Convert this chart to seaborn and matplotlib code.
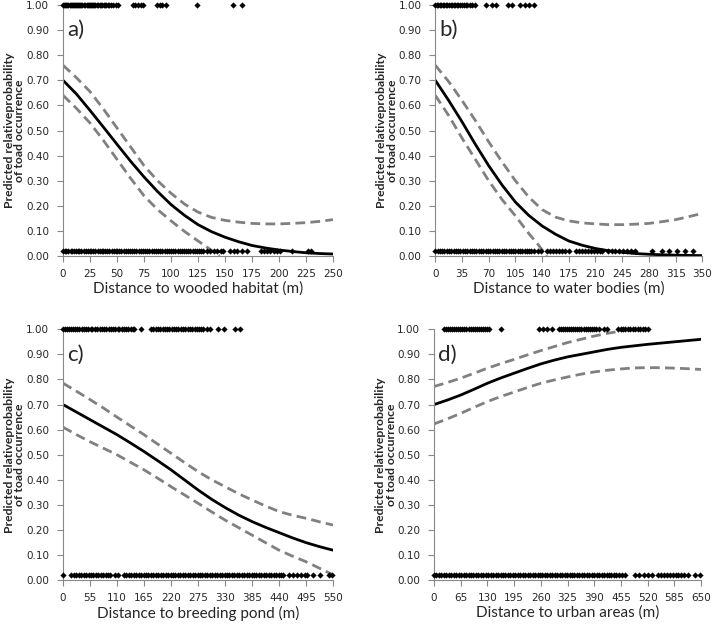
import seaborn as sns
import matplotlib.pyplot as plt
from matplotlib.ticker import FormatStrFormatter

# a) distance to wooded habitat
a_x = [0, 12.5, 25, 37.5, 50, 62.5, 75, 87.5, 100, 112.5, 125, 137.5, 150, 162.5, 175, 187.5,
       200, 212.5, 225, 237.5, 250]
a_fit = [0.70, 0.645, 0.58, 0.513, 0.445, 0.378, 0.315, 0.257, 0.205, 0.162, 0.125, 0.097,
         0.075, 0.057, 0.042, 0.032, 0.024, 0.018, 0.013, 0.010, 0.008]
a_upper = [0.76, 0.71, 0.655, 0.585, 0.51, 0.435, 0.36, 0.30, 0.25, 0.207, 0.175, 0.154,
           0.142, 0.135, 0.13, 0.128, 0.128, 0.13, 0.133, 0.138, 0.145]
a_lower_x = [0, 12.5, 25, 37.5, 50, 62.5, 75, 87.5, 100, 112.5, 125, 135, 145]
a_lower = [0.64, 0.588, 0.53, 0.46, 0.385, 0.31, 0.24, 0.185, 0.14, 0.098, 0.06, 0.03, 0.0]
a_top = [0, 1, 2, 3, 4, 5, 6, 7, 8, 9, 10, 11, 12, 13, 14, 15, 16, 17, 18, 19, 20, 22, 23, 24,
         25, 26, 27, 28, 29, 30, 31, 32, 34, 35, 36, 38, 39, 40, 42, 43, 44, 46, 49, 51,
         65, 67, 69, 72, 74, 87, 90, 92, 95, 124, 157, 166]
a_bottom = [0, 2, 3, 5, 7, 8, 10, 12, 14, 15, 17, 19, 21, 23, 25, 26, 28, 30, 32, 34, 36, 37,
            39, 41, 43, 45, 47, 49, 50, 52, 54, 56, 58, 60, 62, 64, 66, 68, 70, 72, 74, 76, 78,
            80, 82, 84, 86, 88, 90, 92, 94, 96, 98, 100, 102, 104, 106, 108, 110, 112, 114,
            116, 118, 120, 122, 124, 126, 128, 130, 133, 136, 140, 143, 146, 148, 155, 158,
            161, 166, 170, 183, 186, 189, 192, 195, 198, 201, 212, 227, 230]

# b) distance to water bodies
b_x = [0, 17.5, 35, 52.5, 70, 87.5, 105, 122.5, 140, 157.5, 175, 192.5, 210, 227.5, 245,
       262.5, 280, 297.5, 315, 332.5, 350]
b_fit = [0.70, 0.62, 0.535, 0.445, 0.36, 0.283, 0.215, 0.162, 0.12, 0.087, 0.06, 0.043, 0.03,
         0.021, 0.015, 0.01, 0.007, 0.005, 0.0035, 0.0025, 0.0017]
b_upper = [0.76, 0.695, 0.62, 0.54, 0.455, 0.375, 0.30, 0.235, 0.185, 0.155, 0.14, 0.132,
           0.128, 0.125, 0.125, 0.127, 0.13, 0.137, 0.145, 0.157, 0.17]
b_lower_x = [0, 17.5, 35, 52.5, 70, 87.5, 105, 122.5, 135, 146]
b_lower = [0.64, 0.56, 0.47, 0.385, 0.30, 0.225, 0.16, 0.09, 0.045, 0.0]
b_top = [0, 2, 4, 6, 8, 10, 12, 14, 16, 18, 20, 22, 24, 26, 28, 30, 33, 35, 37, 40, 42, 45,
         48, 52, 67, 74, 80, 95, 101, 111, 117, 123, 129]
b_bottom = [0, 3, 6, 9, 12, 15, 18, 21, 24, 27, 30, 33, 36, 39, 42, 45, 48, 51, 54, 57, 60, 63,
            66, 69, 72, 75, 78, 81, 84, 87, 90, 93, 96, 99, 102, 105, 108, 111, 114, 117, 120,
            123, 126, 130, 134, 138, 146, 150, 154, 158, 162, 166, 170, 175, 184, 188, 192,
            196, 200, 204, 208, 212, 216, 219, 226, 231, 236, 241, 246, 251, 256, 262, 284,
            297, 307, 317, 327, 338]

# c) distance to breeding pond
c_x = [0, 27.5, 55, 82.5, 110, 137.5, 165, 192.5, 220, 247.5, 275, 302.5, 330, 357.5, 385,
       412.5, 440, 467.5, 495, 522.5, 550]
c_fit = [0.70, 0.67, 0.64, 0.61, 0.58, 0.547, 0.513, 0.477, 0.44, 0.40, 0.36, 0.323, 0.29,
         0.26, 0.234, 0.211, 0.19, 0.169, 0.15, 0.134, 0.12]
c_upper = [0.785, 0.753, 0.72, 0.686, 0.65, 0.615, 0.58, 0.543, 0.506, 0.469, 0.433, 0.401,
           0.373, 0.345, 0.32, 0.296, 0.274, 0.259, 0.247, 0.233, 0.22]
c_lower = [0.61, 0.58, 0.552, 0.526, 0.50, 0.47, 0.44, 0.407, 0.373, 0.34, 0.307, 0.273,
           0.24, 0.21, 0.18, 0.15, 0.12, 0.096, 0.074, 0.048, 0.022]
c_top = [0, 4, 8, 12, 16, 20, 25, 29, 33, 38, 42, 47, 51, 56, 60, 66, 70, 75, 79, 84, 88, 93,
         97, 102, 106, 111, 115, 120, 124, 129, 133, 138, 142, 145, 158, 180, 184, 189, 193,
         198, 203, 207, 212, 216, 221, 226, 230, 235, 240, 244, 249, 254, 258, 263, 268,
         272, 277, 282, 286, 293, 299, 316, 327, 350, 361]
c_bottom = [0, 17, 22, 27, 32, 37, 42, 47, 52, 57, 62, 67, 72, 77, 82, 87, 92, 96, 106, 112,
            124, 129, 134, 139, 144, 149, 154, 159, 164, 169, 174, 179, 184, 189, 194, 199,
            204, 209, 214, 219, 224, 229, 234, 239, 244, 249, 254, 259, 264, 269, 274, 279,
            284, 289, 294, 299, 304, 309, 314, 319, 324, 329, 334, 339, 344, 349, 354, 359,
            364, 369, 374, 379, 384, 389, 394, 399, 404, 409, 414, 419, 424, 429, 434, 439,
            444, 449, 460, 468, 476, 484, 492, 497, 510, 524, 541, 548]

# d) distance to urban areas
d_x = [0, 32.5, 65, 97.5, 130, 162.5, 195, 227.5, 260, 292.5, 325, 357.5, 390, 422.5, 455,
       487.5, 520, 552.5, 585, 617.5, 650]
d_fit = [0.70, 0.718, 0.738, 0.761, 0.785, 0.806, 0.825, 0.844, 0.862, 0.877, 0.89, 0.90,
         0.91, 0.92, 0.928, 0.934, 0.94, 0.945, 0.95, 0.955, 0.96]
d_upper_x = [0, 32.5, 65, 97.5, 130, 162.5, 195, 227.5, 260, 292.5, 325, 357.5, 390, 422.5,
             455, 466]
d_upper = [0.772, 0.788, 0.805, 0.825, 0.845, 0.863, 0.88, 0.898, 0.915, 0.931, 0.947, 0.96,
           0.973, 0.984, 0.993, 1.0]
d_lower = [0.623, 0.643, 0.665, 0.689, 0.712, 0.732, 0.75, 0.768, 0.785, 0.798, 0.81, 0.821,
           0.83, 0.837, 0.842, 0.846, 0.847, 0.847, 0.845, 0.843, 0.84]
d_top = [24, 29, 34, 39, 44, 49, 54, 59, 64, 69, 74, 79, 84, 89, 94, 99, 104, 109, 114, 119,
         124, 129, 135, 164, 256, 266, 276, 288, 304, 309, 314, 319, 324, 329, 334, 339, 344,
         349, 354, 359, 364, 369, 374, 379, 384, 389, 394, 401, 413, 421, 448, 454, 460, 466,
         472, 478, 484, 490, 496, 502, 508, 514, 522]
d_bottom = [0, 6, 12, 18, 24, 30, 36, 42, 48, 54, 60, 66, 72, 78, 84, 90, 96, 102, 108, 114,
            120, 126, 132, 138, 144, 150, 156, 162, 168, 174, 180, 186, 192, 198, 204, 210,
            216, 222, 228, 234, 240, 246, 252, 258, 264, 270, 276, 282, 288, 294, 300, 306,
            312, 318, 324, 330, 336, 342, 348, 354, 360, 366, 372, 378, 384, 390, 396, 402,
            408, 414, 420, 426, 432, 438, 444, 450, 458, 466, 490, 500, 510, 520, 530, 546,
            553, 560, 567, 574, 581, 588, 595, 602, 609, 619, 635, 647]

sns.set_style('ticks')
plt.rcParams['font.family'] = ['Lato', 'DejaVu Sans']

fig = plt.figure(figsize=(7.13, 6.26), dpi=100)
axes = {
    'a': fig.add_axes([0.0884, 0.591, 0.3787, 0.401]),
    'b': fig.add_axes([0.6105, 0.591, 0.3745, 0.401]),
    'c': fig.add_axes([0.0884, 0.073, 0.3787, 0.401]),
    'd': fig.add_axes([0.6087, 0.073, 0.3745, 0.401]),
}

panels = [
    ('a', a_x, a_fit, a_x, a_upper, a_lower_x, a_lower, a_top, a_bottom, 250, 25,
     'Distance to wooded habitat (m)'),
    ('b', b_x, b_fit, b_x, b_upper, b_lower_x, b_lower, b_top, b_bottom, 350, 35,
     'Distance to water bodies (m)'),
    ('c', c_x, c_fit, c_x, c_upper, c_x, c_lower, c_top, c_bottom, 550, 55,
     'Distance to breeding pond (m)'),
    ('d', d_x, d_fit, d_upper_x, d_upper, d_x, d_lower, d_top, d_bottom, 650, 65,
     'Distance to urban areas (m)'),
]

for key, x, fit, ux, up, lx, lo, top, bottom, xmax, step, xlabel in panels:
    ax = axes[key]
    # observations (presence at 1, absence near 0)
    sns.scatterplot(x=top, y=[1.0] * len(top), ax=ax, marker='D', s=10, color='black',
                    linewidth=0, clip_on=False, zorder=3)
    sns.scatterplot(x=bottom, y=[0.02] * len(bottom), ax=ax, marker='D', s=10, color='black',
                    linewidth=0, clip_on=False, zorder=3)
    # confidence limits
    for xs, ys in [(ux, up), (lx, lo)]:
        sns.lineplot(x=xs, y=ys, ax=ax, color='#808080', lw=2, sort=False)
        ax.lines[-1].set_dashes([3.5, 1.9])
    sns.lineplot(x=x, y=fit, ax=ax, color='black', lw=2, sort=False)

    ax.set_xlim(0, xmax)
    ax.set_ylim(0, 1)
    ax.set_xticks(list(range(0, xmax + 1, step)))
    ax.set_yticks([i / 10 for i in range(11)])
    ax.yaxis.set_major_formatter(FormatStrFormatter('%.2f'))
    ax.tick_params(axis='both', direction='out', length=4, width=0.8, color='#888888',
                   labelsize=7.5)
    ax.tick_params(axis='y', pad=6)
    ax.tick_params(axis='x', pad=5)
    for lab in ax.get_xticklabels() + ax.get_yticklabels():
        lab.set_family('DejaVu Sans')
    sns.despine(ax=ax)
    for side in ['left', 'bottom']:
        ax.spines[side].set_color('#888888')
        ax.spines[side].set_linewidth(0.8)
    ax.set_xlabel(xlabel, fontsize=11, labelpad=2)
    ax.set_ylabel('Predicted relativeprobability\nof toad occurrence', fontsize=8.8,
                  fontweight='bold', linespacing=0.95)
    ax.yaxis.set_label_coords(-0.14, 0.5)
    ax.text(0.015, 0.9, key + ')', transform=ax.transAxes, fontsize=16, va='center')

fig.savefig('out.png', dpi=100)
